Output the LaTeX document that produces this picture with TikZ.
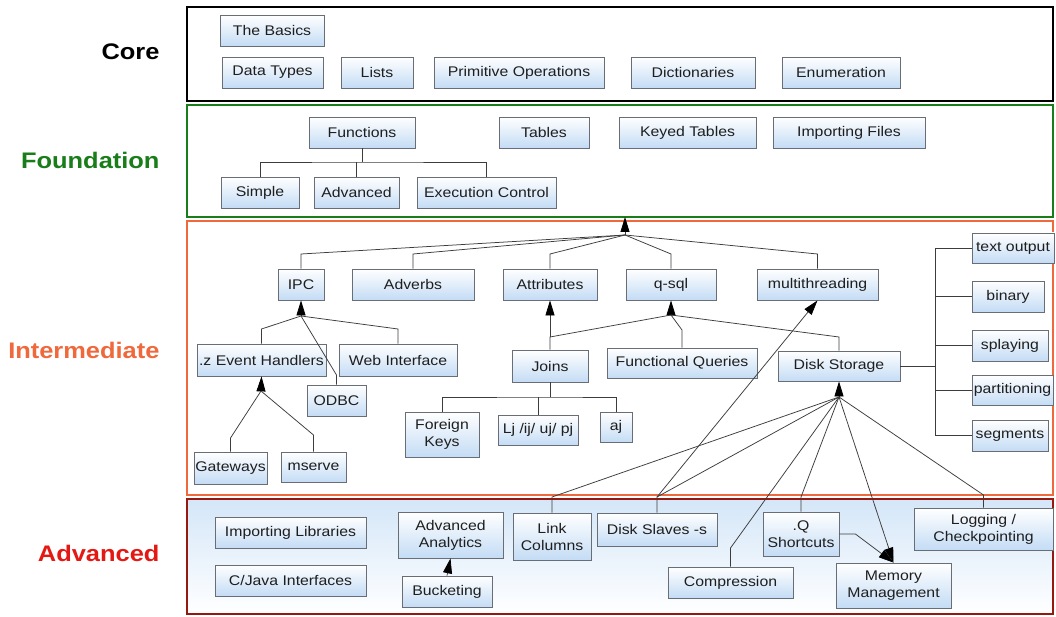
\documentclass[tikz,border=0pt]{standalone}
\usepackage{fontspec}
\setmainfont{Liberation Sans}[FakeStretch=1.13]
\usetikzlibrary{arrows.meta,shadows}
\definecolor{boxfill}{RGB}{196,220,245}
\definecolor{boxline}{RGB}{105,110,118}
\definecolor{conncol}{RGB}{60,60,60}
\definecolor{txtcol}{RGB}{30,30,30}
\definecolor{fgreen}{RGB}{25,125,25}
\definecolor{iorange}{RGB}{240,105,60}
\definecolor{ared}{RGB}{228,25,20}
\definecolor{aborder}{RGB}{150,25,15}
\definecolor{advtop}{RGB}{212,230,248}
\tikzset{
  box/.style={draw=boxline, line width=0.8pt, top color=white, bottom color=boxfill,
    text=txtcol, inner sep=1pt, align=center,
    font=\fontsize{14}{17}\selectfont,
    drop shadow={shadow xshift=1.2pt, shadow yshift=-1.2pt, fill=black!30, opacity=0.45}},
  band/.style={line width=2.8pt, inner sep=0pt, outer sep=0pt},
  blabel/.style={anchor=east, font=\fontsize{22.5}{24}\selectfont\bfseries},
  conn/.style={draw=conncol, line width=0.75pt},
  arr/.style={conn, -{Triangle[length=15pt,width=9pt,color=black,fill=black]}},
}
\newcommand{\bx}[6]{\node[box, minimum width=#3-#2, minimum height=#5-#4] (#1) at ({(#2+#3)/2},{(#4+#5)/2}) {#6};}
\begin{document}
\begin{tikzpicture}[x=1pt,y=-1pt]
\useasboundingbox (0,0) rectangle (1056,617);
\fill[white] (0,0) rectangle (1056,617);
% bands
\node[band, draw=black, fill=white, minimum width=866, minimum height=94] (coreband) at (620,54) {};
\node[band, draw=fgreen, fill=white, minimum width=866, minimum height=112] (foundband) at (620,161) {};
\node[band, draw=iorange, fill=white, minimum width=866, minimum height=274] (interband) at (620,358) {};
\node[band, draw=aborder, top color=advtop, bottom color=white, minimum width=866, minimum height=115] (advband) at (620,556.5) {};
% band labels
\node[blabel, text=black] (lcore) at (163,52) {Core};
\node[blabel, text=fgreen] (lfound) at (163,160) {Foundation};
\node[blabel, text=iorange] (linter) at (163,350) {Intermediate};
\node[blabel, text=ared] (ladv) at (163,553) {Advanced};
% Core
\bx{basics}{220}{324}{15}{46}{The Basics}
\bx{datatypes}{222}{323}{57}{88}{Data Types}
\bx{lists}{341}{413}{57}{88}{Lists}
\bx{primops}{434}{604}{57}{88}{Primitive Operations}
\bx{dicts}{631}{755}{57}{88}{Dictionaries}
\bx{enum}{782}{900}{57}{88}{Enumeration}
% Foundation
\bx{functions}{309}{415}{117}{148}{Functions}
\bx{tables}{499}{589}{117}{148}{Tables}
\bx{keyed}{619}{756}{117}{148}{Keyed Tables}
\bx{importfiles}{773}{925}{117}{148}{Importing Files}
\bx{simple}{221}{299}{177}{208}{Simple}
\bx{advancedf}{314}{399}{177}{208}{Advanced}
\bx{execctl}{417}{556}{177}{208}{Execution Control}
% Intermediate
\bx{ipc}{278}{324}{269}{300}{IPC}
\bx{adverbs}{352}{474}{269}{300}{Adverbs}
\bx{attributes}{503}{597}{269}{300}{Attributes}
\bx{qsql}{626}{716}{269}{300}{q-sql}
\bx{multithreading}{757}{878}{269}{300}{multithreading}
\bx{zevent}{197}{326}{344}{376}{.z Event Handlers}
\bx{webint}{339}{457}{344}{376}{Web Interface}
\bx{odbc}{307}{366}{385}{416}{ODBC}
\bx{joins}{512}{588}{350}{382}{Joins}
\bx{funcq}{607}{757}{348}{378}{Functional Queries}
\bx{diskst}{778}{900}{351}{381}{Disk Storage}
\bx{foreign}{405}{479}{412}{457}{Foreign\\Keys}
\bx{lj}{498}{578}{415}{445}{Lj /ij/ uj/ pj}
\bx{aj}{600}{632}{412}{442}{aj}
\bx{gateways}{194}{267}{452}{484}{Gateways}
\bx{mserve}{281}{346}{452}{482}{mserve}
\bx{textout}{972}{1054}{233}{263}{text output}
\bx{binary}{972}{1044}{281}{312}{binary}
\bx{splaying}{972}{1048}{330}{361}{splaying}
\bx{partitioning}{972}{1053}{375}{405}{partitioning}
\bx{segments}{972}{1048}{420}{451}{segments}
% Advanced
\bx{implib}{215}{366}{517}{548}{Importing Libraries}
\bx{cjava}{215}{366}{565}{596}{C/Java Interfaces}
\bx{advanal}{398}{503}{512}{558}{Advanced\\Analytics}
\bx{bucketing}{402}{492}{576}{607}{Bucketing}
\bx{linkcol}{513}{591}{513}{560}{Link\\Columns}
\bx{diskslaves}{597}{717}{513}{546}{Disk Slaves -s}
\bx{qshort}{763}{839}{512}{556}{.Q\\Shortcuts}
\bx{compression}{668}{793}{567}{598}{Compression}
\bx{memmgmt}{836}{951}{563}{608}{Memory\\Management}
\bx{logging}{914}{1053}{508}{550}{Logging /\\Checkpointing}
% hubs
\coordinate (fbus) at (362,162);
\coordinate (tophub) at (625,235);
\coordinate (ipchub) at (301,316);
\coordinate (zhub) at (261,391);
\coordinate (jhub) at (550,337);
\coordinate (qhub) at (671,315);
\coordinate (jbus) at (550,397);
\coordinate (dshub) at (839,397);
\coordinate (sbus) at (935,366);
\coordinate (slavej) at (657,497);
% Foundation tree
\draw[conn] (functions.south) -- (fbus);
\draw[conn] (simple.north) |- (fbus) -| (execctl.north);
\draw[conn] (advancedf.north) -- (advancedf.north |- fbus);
% top hub
\draw[arr] (tophub) -- (tophub |- foundband.south);
\foreach \n in {ipc,adverbs,attributes,qsql,multithreading}
  \draw[conn] (tophub) -- (\n.north |- 0,254) -- (\n.north);
% IPC subtree
\draw[arr] (ipchub) -- (ipc.south);
\draw[conn] (ipchub) -- (zevent.north |- 0,329) -- (zevent.north);
\draw[conn] (ipchub) -- (webint.north |- 0,329) -- (webint.north);
\draw[conn] (ipchub) -- (odbc.north |- 0,375) -- (odbc.north);
% .z subtree
\draw[arr] (zhub) -- (zevent.south);
\draw[conn] (zhub) -- (gateways.north |- 0,438) -- (gateways.north);
\draw[conn] (zhub) -- (mserve.north |- 0,435) -- (mserve.north);
% attributes / q-sql
\draw[arr] (jhub) -- (attributes.south);
\draw[arr] (qhub) -- (qsql.south);
\draw[conn] (joins.north) -- (jhub) -- (qhub);
\draw[conn] (qhub) -- (funcq.north |- 0,330) -- (funcq.north);
\draw[conn] (qhub) -- (diskst.north |- 0,337) -- (diskst.north);
% joins children
\draw[conn] (joins.south) -- (jbus);
\draw[conn] (foreign.north) |- (jbus) -| (aj.north);
\draw[conn] (lj.north) -- (lj.north |- jbus);
% storage formats
\draw[conn] (diskst.east) -- (sbus);
\draw[conn] (textout.west) -| (segments.west -| sbus) -- (segments.west);
\foreach \n in {binary,splaying,partitioning}
  \draw[conn] (\n.west) -- (\n.west -| sbus);
% disk storage hub
\draw[arr] (dshub) -- (diskst.south);
\draw[conn] (dshub) -- (linkcol.north |- 0,497) -- (linkcol.north);
\draw[conn] (dshub) -- (slavej) -- (diskslaves.north);
\draw[conn] (dshub) -- (compression.north |- 0,548) -- (compression.north);
\draw[conn] (dshub) -- (qshort.north |- 0,497) -- (qshort.north);
\draw[conn] (dshub) -- (logging.north |- 0,495) -- (logging.north);
\draw[arr] (dshub) -- (memmgmt.north);
\draw[arr] (qshort.east) -- ++(16,0) -- (memmgmt.north);
\draw[arr] (slavej) -- (multithreading.south);
% advanced analytics
\draw[arr] (bucketing.north) -- (advanal.south);
\end{tikzpicture}
\end{document}
